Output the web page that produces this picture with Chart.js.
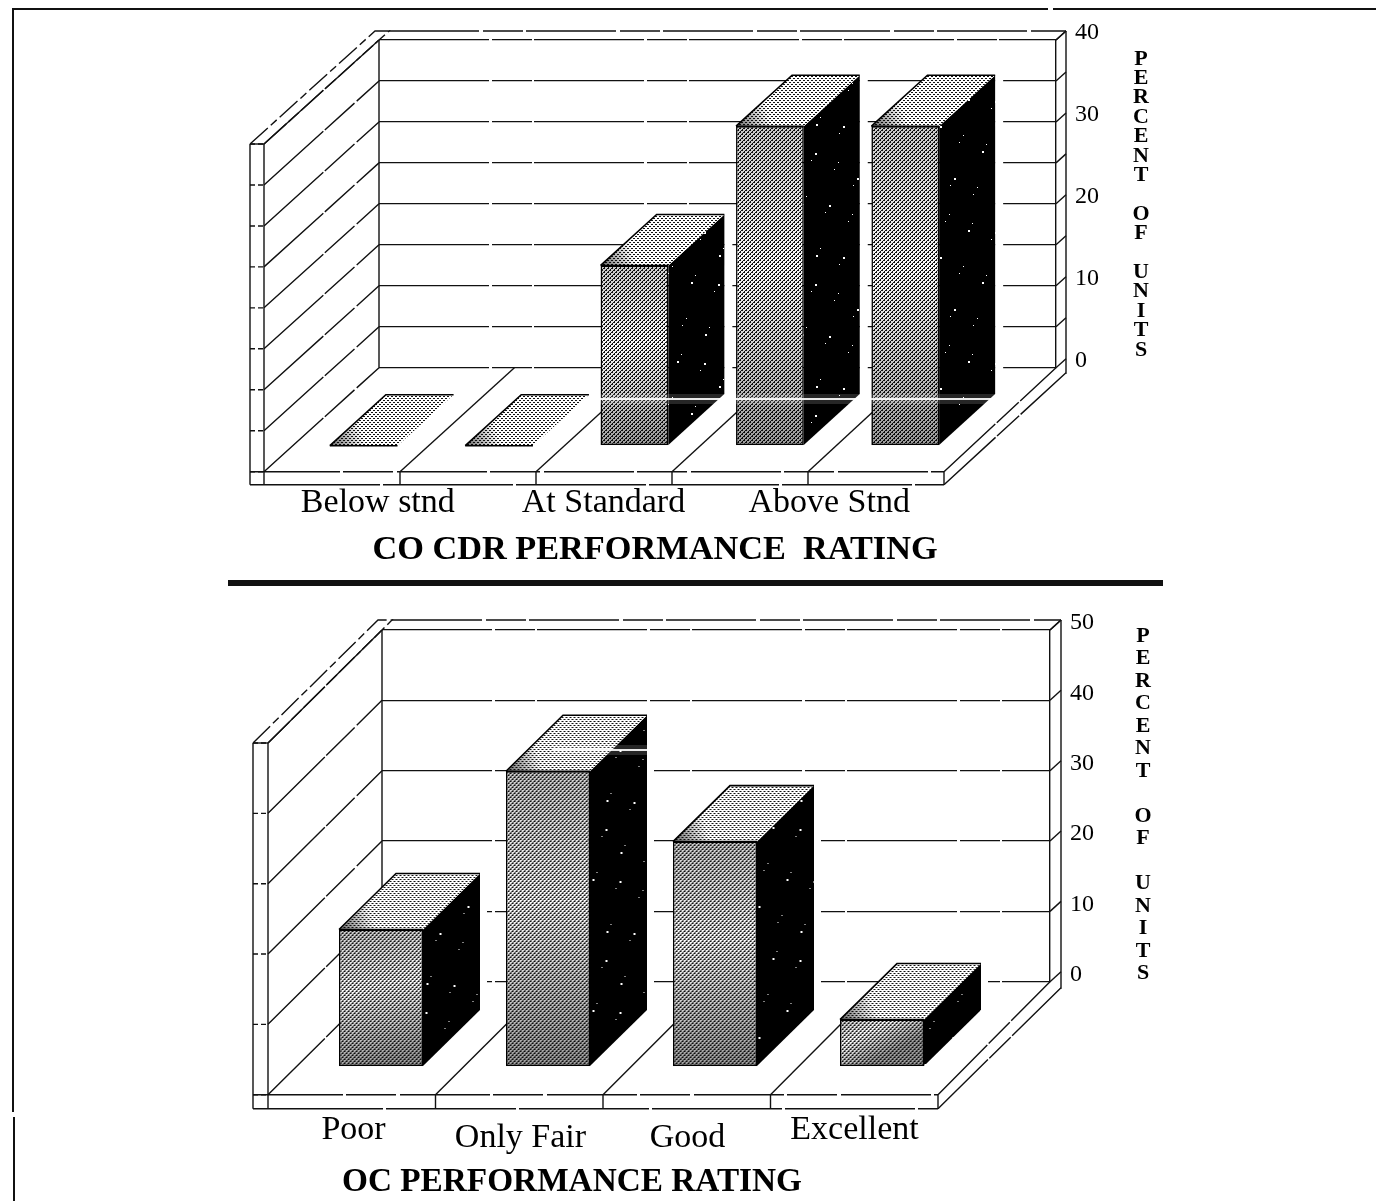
<!DOCTYPE html>
<html>
<head>
<meta charset="utf-8">
<style>
html,body{margin:0;padding:0;background:#fff;width:1376px;height:1201px;overflow:hidden}
canvas{position:absolute;left:0}
.r{position:absolute;background:#111}
</style>
<script src="https://cdn.jsdelivr.net/npm/chart.js@4"></script>
</head>
<body>
<div class="r" style="left:12px;top:8px;width:1364px;height:2px"></div>
<div class="r" style="left:1048px;top:7px;width:5px;height:4px;background:#fff"></div>
<div class="r" style="left:12px;top:8px;width:2px;height:1104px"></div>
<div class="r" style="left:13px;top:1117px;width:1.5px;height:84px"></div>
<div class="r" style="left:228px;top:580px;width:935px;height:6px"></div>
<canvas id="top" width="1376" height="590" style="top:0"></canvas>
<canvas id="bottom" width="1376" height="611" style="top:590px"></canvas>
<script>
// ---- data ----
const coCategories = ['Below stnd', '', 'At Standard', '', 'Above Stnd'];
const coValues = [0, 0, 22, 39, 39];
const coAxisLabels = ['Below stnd', 'At Standard', 'Above Stnd'];
const coTitle = 'CO CDR PERFORMANCE  RATING';

const ocCategories = ['Poor', 'Only Fair', 'Good', 'Excellent'];
const ocValues = [19.5, 42, 32, 6.7];
const ocAxisLabels = ['Poor', 'Only Fair', 'Good', 'Excellent'];
const ocLoweredLabels = ['Only Fair', 'Good'];
const ocTitle = 'OC PERFORMANCE RATING';

const sideTitle = 'PERCENT OF UNITS';

// ---- fill textures ----
function tile(w, h, paint) {
  const c = document.createElement('canvas');
  c.width = w; c.height = h;
  const g = c.getContext('2d');
  paint(g);
  return g.createPattern(c, 'repeat');
}
const frontFill = tile(4, 4, g => {
  g.fillStyle = '#fff'; g.fillRect(0, 0, 4, 4);
  g.fillStyle = '#111';
  for (let y = 0; y < 4; y++) for (let x = 0; x < 4; x++)
    if ((x + y) % 4 < 2 && (x - y + 8) % 4 !== 3) g.fillRect(x, y, 1, 1);
});
const topFill = tile(4, 4, g => {
  g.fillStyle = '#fff'; g.fillRect(0, 0, 4, 4);
  g.fillStyle = '#111';
  for (let y = 0; y < 4; y++) for (let x = 0; x < 4; x++)
    if ((x + y) % 4 < 2 && (x - y + 8) % 4 < 2) g.fillRect(x, y, 1, 1);
});
const sideFill = tile(97, 131, g => {
  g.fillStyle = '#000'; g.fillRect(0, 0, 97, 131);
  g.fillStyle = '#fff';
  for (let i = 0; i < 26; i++) {
    const s = i % 3 === 0 ? 2 : 1;
    g.fillRect((i * 37 + 11) % 97, (i * 61 + 23) % 131, s, s);
  }
});

// ---- 3D box plugin: walls, floor and bar faces, all placed from the scales ----
function box3d(geo) {
  const line = (c, pts, dash) => {
    c.setLineDash(dash || []);
    c.beginPath();
    pts.forEach((p, i) => i ? c.lineTo(p[0], p[1]) : c.moveTo(p[0], p[1]));
    c.stroke();
  };
  return {
    id: 'box3d',
    beforeDatasetsDraw(chart) {
      const c = chart.ctx, a = chart.chartArea, ys = chart.scales.y, xs = chart.scales.x;
      const [dx, dy] = geo.depth, o = geo.outer, h = geo.floor;
      const fl = a.left - dx, fb = a.bottom + dy;
      c.save();
      c.strokeStyle = '#111'; c.lineWidth = 1.4;
      // back left corner
      line(c, [[a.left, a.top], [a.left, a.bottom]]);
      // left wall frame
      line(c, [[fl, a.top + dy], [fl, fb + h]]);
      line(c, [[fl - o, a.top + dy], [fl - o, fb + h]]);
      line(c, [[fl, a.top + dy], [a.left, a.top]], [30, 3, 14, 3]);
      line(c, [[fl - o, a.top + dy], [a.left - 4, a.top - geo.cap], [a.left + 10, a.top - geo.cap], [a.left, a.top]], [24, 4, 8, 4]);
      line(c, [[fl - o, a.top + dy], [fl, a.top + dy]]);
      // top edge of the wall, and right rail
      line(c, [[a.left + 10, a.top - geo.cap], [a.right + geo.rail, a.top - geo.cap]], [90, 4, 40, 3]);
      line(c, [[a.right + geo.rail, a.top - geo.cap], [a.right + geo.rail, a.bottom + geo.rail - 4]]);
      line(c, [[a.right, a.top], [a.right + geo.rail, a.top - geo.cap]]);
      // rows of the side walls
      ys.ticks.forEach(t => {
        const y = ys.getPixelForValue(t.value);
        line(c, [[fl, y + dy], [a.left, y]], [80, 2, 40, 3]);
        line(c, [[fl - o, y + dy], [fl, y + dy]], [5, 3]);
        line(c, [[a.right, y], [a.right + geo.rail, y - geo.rail + 1]]);
      });
      // floor
      const n = xs.ticks.length, step = (a.right - a.left) / n + geo.floorStretch;
      const back = (a.right - a.left) / n;
      for (let i = 1; i <= n; i++) {
        const fx = fl + i * step;
        if (i < n) line(c, [[fx, fb], [a.left + i * back, a.bottom]]);
        line(c, [[fx, fb], [fx, fb + h]]);
      }
      const fr = fl + n * step;
      line(c, [[fl - o, fb], [fr, fb]], [90, 3, 50, 4]);
      line(c, [[fl - o, fb + h], [fr, fb + h]], [130, 3]);
      line(c, [[fr, fb], [a.right, a.bottom]], [70, 2, 30, 2]);
      line(c, [[fr, fb + h], [a.right + geo.rail, a.bottom + geo.rail - 5]], [70, 2, 30, 2]);
      c.restore();
    },
    beforeDatasetDraw(chart) {
      chart.ctx.save();
      chart.ctx.translate(geo.shift[0], geo.shift[1]);
      // white gap that keeps the grid clear of each bar's right side
      chart.getDatasetMeta(0).data.forEach(el => {
        if (el.base - el.y < 1) return;
        const r = el.x + el.width / 2 + geo.bar[0];
        chart.ctx.fillStyle = '#fff';
        chart.ctx.fillRect(r, el.y - geo.bar[1], geo.gap, el.base - el.y);
      });
    },
    afterDatasetDraw(chart) {
      const c = chart.ctx, [bx, by] = geo.bar;
      chart.getDatasetMeta(0).data.forEach(el => {
        const l = el.x - el.width / 2, r = el.x + el.width / 2, t = el.y, b = el.base;
        const poly = (pts, fill) => {
          c.beginPath();
          pts.forEach((p, i) => i ? c.lineTo(p[0], p[1]) : c.moveTo(p[0], p[1]));
          c.closePath();
          c.fillStyle = fill; c.fill();
        };
        // shading on the front face
        if (b - t > 1) {
          const g = c.createLinearGradient(l, t, l + 24, b);
          g.addColorStop(0, 'rgba(0,0,0,.22)');
          g.addColorStop(.45, 'rgba(0,0,0,.02)');
          g.addColorStop(1, 'rgba(0,0,0,.4)');
          c.fillStyle = g; c.fillRect(l, t, r - l, b - t);
          poly([[r, t], [r + bx, t - by], [r + bx, b - by], [r, b]], sideFill);
        }
        const topFace = [[l, t], [r, t], [r + bx, t - by], [l + bx, t - by]];
        poly(topFace, topFill);
        const g2 = c.createLinearGradient(l, t, l + bx * .6, t - by * .2);
        g2.addColorStop(0, 'rgba(0,0,0,.6)');
        g2.addColorStop(1, 'rgba(0,0,0,0)');
        poly(topFace, g2);
        c.strokeStyle = '#000'; c.lineWidth = 1.6; c.setLineDash([]);
        c.beginPath();
        c.moveTo(l, t); c.lineTo(r, t); c.stroke();
        c.beginPath();
        c.moveTo(l, t); c.lineTo(l + bx, t - by); c.lineTo(r + bx, t - by); c.stroke();
      });
      c.restore();
      // scanner streak across the bars
      c.save();
      c.fillStyle = 'rgba(255,255,255,.15)';
      c.fillRect(geo.streak[0], geo.streak[1] - 4, geo.streak[2], 10);
      c.fillStyle = 'rgba(255,255,255,.9)';
      c.fillRect(geo.streak[0], geo.streak[1], geo.streak[2], 2);
      c.restore();
    },
    afterLayout(chart) {
      const t = chart.titleBlock;
      t.left = geo.titleX - 450; t.right = geo.titleX + 450;
      t.top = geo.titleY - t.options.font.size / 2; t.bottom = t.top + t.options.font.size;
    },
    afterDraw(chart) {
      const c = chart.ctx;
      c.save();
      c.fillStyle = '#000';
      c.font = 'bold 22px "Liberation Serif"';
      c.textAlign = 'center'; c.textBaseline = 'middle';
      let row = 0;
      for (const word of sideTitle.split(' ')) {
        for (const ch of word) {
          c.fillText(ch, geo.sideX, geo.sideY + row * geo.sidePitch);
          row++;
        }
        row++;
      }
      c.restore();
    }
  };
}

function build(id, categories, values, axisLabels, lowered, title, opt, geo) {
  return new Chart(document.getElementById(id), {
    type: 'bar',
    data: {
      labels: categories,
      datasets: [{
        data: values,
        xAxisID: 'x',
        backgroundColor: frontFill,
        borderColor: '#000',
        borderWidth: 1.5,
        borderSkipped: false,
        categoryPercentage: 1,
        barPercentage: opt.barPct,
        clip: false
      }]
    },
    options: {
      responsive: false,
      devicePixelRatio: 1,
      animation: false,
      events: [],
      layout: { padding: opt.padding },
      plugins: {
        legend: { display: false },
        tooltip: { enabled: false },
        title: {
          display: true, text: title, position: 'bottom', color: '#000',
          padding: 0,
          font: { family: '"Liberation Serif"', size: opt.titleSize, weight: 'bold', lineHeight: 1 }
        }
      },
      scales: {
        x: { type: 'category', display: false, offset: true },
        x2: {
          type: 'category', position: 'bottom', offset: true, labels: axisLabels,
          afterFit(s) { s.height = opt.axisHeight; },
          grid: { display: false, drawTicks: false },
          border: { display: false },
          ticks: {
            autoSkip: false, maxRotation: 0, minRotation: 0, color: '#000',
            padding: opt.labelPad, labelOffset: opt.labelOffset,
            font: { family: '"Liberation Serif"', size: 34, lineHeight: '8px' },
            callback(v) {
              const l = this.getLabelForValue(v);
              return lowered.includes(l) ? ['', l] : l;
            }
          }
        },
        y: {
          position: 'right', min: 0, max: opt.max,
          afterFit(s) { s.width = 100; },
          grid: { color: '#111', lineWidth: 1.3, drawTicks: false },
          border: { display: true, color: '#111', width: 1.4, dash: [110, 3, 40, 2] },
          ticks: {
            stepSize: opt.step, color: '#000', padding: opt.tickPad, labelOffset: -7,
            font: { family: '"Liberation Serif"', size: 24 },
            callback: v => (v % 10 === 0 ? String(v) : '')
          }
        }
      }
    },
    plugins: [box3d(geo)]
  });
}

build('top', coCategories, coValues, coAxisLabels, [], coTitle,
  { barPct: 0.5, max: 40, step: 5, tickPad: 19, titleSize: 34.3, labelPad: 131, labelOffset: -114, axisHeight: 175,
    padding: { left: 379, right: 220, top: 40, bottom: 13 } },
  { depth: [115, 104], outer: 14, floor: 13, cap: 9, rail: 10, floorStretch: 0.6,
    shift: [-83, 78], bar: [56, 51], gap: 8, streak: [600, 398, 395],
    titleX: 655, titleY: 550, sideX: 1141, sideY: 59, sidePitch: 19.4 });

build('bottom', ocCategories, ocValues, ocAxisLabels, ocLoweredLabels, ocTitle,
  { barPct: 0.503, max: 50, step: 10, tickPad: 20, titleSize: 33.3, labelPad: 144, labelOffset: -112, axisHeight: 180,
    padding: { left: 382, right: 226, top: 40, bottom: 6 } },
  { depth: [114, 113], outer: 15, floor: 14, cap: 10, rail: 11, floorStretch: 0.5,
    shift: [-84.5, 85], bar: [57, 56], gap: 7, streak: [552, 159, 96],
    titleX: 572, titleY: 592, sideX: 1143, sideY: 46, sidePitch: 22.5 });
</script>
</body>
</html>
